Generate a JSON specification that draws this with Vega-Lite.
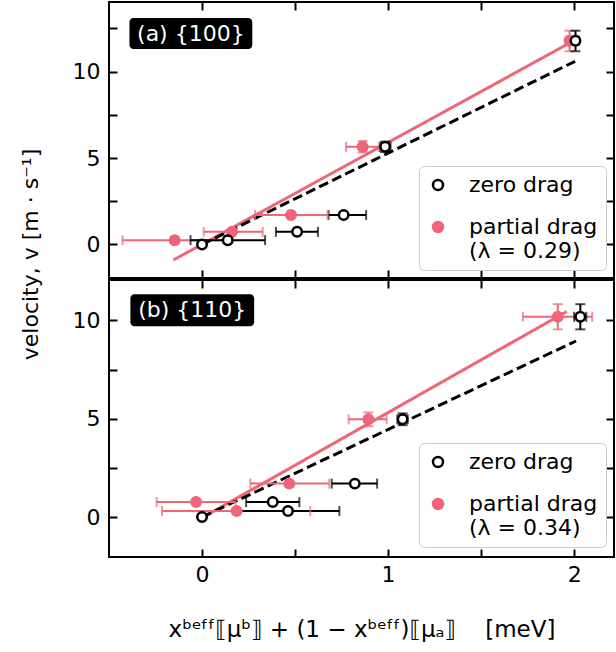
{
  "$schema": "https://vega.github.io/schema/vega-lite/v6.json",
  "padding": {"left": 18, "top": 0, "right": 1, "bottom": 4},
  "bounds": "flush",
  "config": {
    "font": "DejaVu Sans",
    "view": {"stroke": "black", "strokeWidth": 2},
    "concat": {"spacing": 2},
    "axis": {"domain": false, "grid": false, "tickColor": "black", "tickWidth": 2, "tickSize": -8, "labelFontSize": 22, "labelColor": "black", "titleFontSize": 22, "titleColor": "black", "titleFontWeight": "normal", "labelFont": "DejaVu Sans", "titleFont": "DejaVu Sans"},
    "legend": {"orient": "none", "fillColor": "rgba(255,255,255,0.8)", "strokeColor": "#cccccc", "cornerRadius": 5, "padding": 8, "labelFontSize": 22, "labelFont": "DejaVu Sans", "labelColor": "black", "symbolSize": 100, "symbolStrokeWidth": 2.5, "rowPadding": 20, "labelOffset": 20, "labelLimit": 400, "title": null}
  },
  "datasets": {
    "pts": [
      {"panel": "a", "series": "partial", "x": -0.147, "y": 0.25, "xlo": -0.427, "xhi": 0.133, "ylo": null, "yhi": null},
      {"panel": "a", "series": "partial", "x": 0.161, "y": 0.73, "xlo": 0.009, "xhi": 0.326, "ylo": null, "yhi": null},
      {"panel": "a", "series": "partial", "x": 0.478, "y": 1.70, "xlo": 0.285, "xhi": 0.675, "ylo": null, "yhi": null},
      {"panel": "a", "series": "partial", "x": 0.863, "y": 5.65, "xlo": 0.774, "xhi": 0.953, "ylo": 5.32, "yhi": 5.98},
      {"panel": "a", "series": "partial", "x": 1.975, "y": 11.79, "xlo": 1.955, "xhi": 1.995, "ylo": 11.18, "yhi": 12.37},
      {"panel": "a", "series": "zero", "x": 0.0, "y": 0.0, "xlo": null, "xhi": null, "ylo": null, "yhi": null},
      {"panel": "a", "series": "zero", "x": 0.138, "y": 0.25, "xlo": -0.062, "xhi": 0.339, "ylo": null, "yhi": null},
      {"panel": "a", "series": "zero", "x": 0.511, "y": 0.73, "xlo": 0.397, "xhi": 0.623, "ylo": null, "yhi": null},
      {"panel": "a", "series": "zero", "x": 0.761, "y": 1.70, "xlo": 0.680, "xhi": 0.882, "ylo": null, "yhi": null},
      {"panel": "a", "series": "zero", "x": 0.984, "y": 5.65, "xlo": 0.955, "xhi": 1.013, "ylo": 5.35, "yhi": 5.95},
      {"panel": "a", "series": "zero", "x": 2.007, "y": 11.79, "xlo": 1.99, "xhi": 2.025, "ylo": 11.18, "yhi": 12.37},
      {"panel": "b", "series": "partial", "x": -0.032, "y": 0.76, "xlo": -0.244, "xhi": 0.18, "ylo": null, "yhi": null},
      {"panel": "b", "series": "partial", "x": 0.186, "y": 0.31, "xlo": -0.215, "xhi": 0.582, "ylo": null, "yhi": null},
      {"panel": "b", "series": "partial", "x": 0.469, "y": 1.70, "xlo": 0.26, "xhi": 0.684, "ylo": null, "yhi": null},
      {"panel": "b", "series": "partial", "x": 0.894, "y": 4.97, "xlo": 0.788, "xhi": 0.992, "ylo": 4.62, "yhi": 5.32},
      {"panel": "b", "series": "partial", "x": 1.912, "y": 10.18, "xlo": 1.724, "xhi": 2.097, "ylo": 9.54, "yhi": 10.82},
      {"panel": "b", "series": "zero", "x": 0.0, "y": 0.0, "xlo": null, "xhi": null, "ylo": null, "yhi": null},
      {"panel": "b", "series": "zero", "x": 0.380, "y": 0.76, "xlo": 0.237, "xhi": 0.523, "ylo": null, "yhi": null},
      {"panel": "b", "series": "zero", "x": 0.462, "y": 0.31, "xlo": 0.186, "xhi": 0.738, "ylo": null, "yhi": null},
      {"panel": "b", "series": "zero", "x": 0.821, "y": 1.70, "xlo": 0.697, "xhi": 0.941, "ylo": null, "yhi": null},
      {"panel": "b", "series": "zero", "x": 1.078, "y": 4.97, "xlo": 1.05, "xhi": 1.105, "ylo": 4.67, "yhi": 5.27},
      {"panel": "b", "series": "zero", "x": 2.033, "y": 10.18, "xlo": 2.0, "xhi": 2.065, "ylo": 9.54, "yhi": 10.82}
    ],
    "fits": [
      {"panel": "a", "kind": "partial", "x": -0.154, "y": -0.90},
      {"panel": "a", "kind": "partial", "x": 2.0, "y": 11.8},
      {"panel": "a", "kind": "zero", "x": 0.0, "y": 0.0},
      {"panel": "a", "kind": "zero", "x": 2.005, "y": 10.6},
      {"panel": "b", "kind": "partial", "x": -0.015, "y": -0.12},
      {"panel": "b", "kind": "partial", "x": 1.96, "y": 10.45},
      {"panel": "b", "kind": "zero", "x": 0.0, "y": 0.0},
      {"panel": "b", "kind": "zero", "x": 2.01, "y": 8.95}
    ]
  },
  "resolve": {"scale": {"fill": "independent", "stroke": "independent", "y": "independent"}},
  "vconcat": [
    {
      "width": 505, "height": 276,
      "resolve": {"axis": {"x": "independent", "y": "independent"}},
      "layer": [
        {
          "data": {"name": "fits"},
          "transform": [{"filter": "datum.panel == 'a' && datum.kind == 'partial'"}],
          "mark": {"type": "line", "color": "#EE6677", "strokeWidth": 3},
          "encoding": {
            "x": {"field": "x", "type": "quantitative", "scale": {"domain": [-0.5, 2.214], "nice": false, "zero": false},
                  "axis": {"orient": "bottom", "values": [0, 0.5, 1, 1.5, 2], "labels": false, "title": null}},
            "y": {"field": "y", "type": "quantitative", "scale": {"domain": [-1.94, 14.03], "nice": false, "zero": false},
                  "axis": {"orient": "left", "values": [0, 2.5, 5, 7.5, 10, 12.5], "labelExpr": "datum.value % 5 == 0 ? datum.label : ''", "labelPadding": 17,
                           "title": "velocity, v [m · s⁻¹]", "titleX": -79, "titleY": 252, "titleAngle": -90, "titleAlign": "center", "titleBaseline": "middle"}}
          }
        },
        {
          "data": {"name": "fits"},
          "transform": [{"filter": "datum.panel == 'a' && datum.kind == 'zero'"}],
          "mark": {"type": "line", "color": "black", "strokeWidth": 3, "strokeDash": [10, 4.5]},
          "encoding": {
            "x": {"field": "x", "type": "quantitative", "axis": {"orient": "top", "values": [0, 0.5, 1, 1.5, 2], "labels": false, "title": null}},
            "y": {"field": "y", "type": "quantitative", "axis": {"orient": "right", "values": [0, 2.5, 5, 7.5, 10, 12.5], "labels": false, "title": null}}
          }
        },
        {
          "data": {"name": "pts"},
          "transform": [{"filter": "datum.panel == 'a'"}],
          "mark": {"type": "rule", "strokeWidth": 2},
          "encoding": {
            "x": {"field": "xlo", "type": "quantitative", "axis": null},
            "x2": {"field": "xhi"},
            "y": {"field": "y", "type": "quantitative", "axis": null},
            "color": {"condition": {"test": "datum.series == 'zero'", "value": "black"}, "value": "#EE6677"}
          }
        },
        {
          "data": {"name": "pts"},
          "transform": [{"filter": "datum.panel == 'a'"}],
          "mark": {"type": "tick", "orient": "vertical", "size": 10, "thickness": 2},
          "encoding": {
            "x": {"field": "xlo", "type": "quantitative", "axis": null},
            "y": {"field": "y", "type": "quantitative", "axis": null},
            "color": {"condition": {"test": "datum.series == 'zero'", "value": "black"}, "value": "#EE6677"}
          }
        },
        {
          "data": {"name": "pts"},
          "transform": [{"filter": "datum.panel == 'a'"}],
          "mark": {"type": "tick", "orient": "vertical", "size": 10, "thickness": 2},
          "encoding": {
            "x": {"field": "xhi", "type": "quantitative", "axis": null},
            "y": {"field": "y", "type": "quantitative", "axis": null},
            "color": {"condition": {"test": "datum.series == 'zero'", "value": "black"}, "value": "#EE6677"}
          }
        },
        {
          "data": {"name": "pts"},
          "transform": [{"filter": "datum.panel == 'a'"}],
          "mark": {"type": "rule", "strokeWidth": 2},
          "encoding": {
            "x": {"field": "x", "type": "quantitative", "axis": null},
            "y": {"field": "ylo", "type": "quantitative", "axis": null},
            "y2": {"field": "yhi"},
            "color": {"condition": {"test": "datum.series == 'zero'", "value": "black"}, "value": "#EE6677"}
          }
        },
        {
          "data": {"name": "pts"},
          "transform": [{"filter": "datum.panel == 'a'"}],
          "mark": {"type": "tick", "orient": "horizontal", "size": 10, "thickness": 2},
          "encoding": {
            "x": {"field": "x", "type": "quantitative", "axis": null},
            "y": {"field": "ylo", "type": "quantitative", "axis": null},
            "color": {"condition": {"test": "datum.series == 'zero'", "value": "black"}, "value": "#EE6677"}
          }
        },
        {
          "data": {"name": "pts"},
          "transform": [{"filter": "datum.panel == 'a'"}],
          "mark": {"type": "tick", "orient": "horizontal", "size": 10, "thickness": 2},
          "encoding": {
            "x": {"field": "x", "type": "quantitative", "axis": null},
            "y": {"field": "yhi", "type": "quantitative", "axis": null},
            "color": {"condition": {"test": "datum.series == 'zero'", "value": "black"}, "value": "#EE6677"}
          }
        },
        {
          "data": {"name": "pts"},
          "transform": [{"filter": "datum.panel == 'a'"}],
          "mark": {"type": "point", "shape": "circle", "size": 90, "strokeWidth": 2.5, "opacity": 1},
          "encoding": {
            "x": {"field": "x", "type": "quantitative", "axis": null},
            "y": {"field": "y", "type": "quantitative", "axis": null},
            "fill": {"field": "series", "type": "nominal", "scale": {"domain": ["zero", "partial"], "range": ["white", "#EE6677"]},
                     "legend": {"legendX": 310, "legendY": 164, "labelExpr": "datum.value == 'zero' ? 'zero drag' : ['partial drag', '(λ = 0.29)']",
                                "encode": {"labels": {"update": {"lineHeight": {"value": 24.5}}},
                                           "symbols": {"update": {"stroke": {"signal": "datum.value == 'zero' ? 'black' : '#EE6677'"}, "strokeWidth": {"value": 2.5}, "size": {"signal": "datum.value == 'zero' ? 56 : 100"}}}}}},
            "stroke": {"field": "series", "type": "nominal", "scale": {"domain": ["zero", "partial"], "range": ["black", "#EE6677"]}, "legend": null}
          }
        },
        {
          "data": {"values": [{}]},
          "mark": {"type": "rect", "fill": "black", "cornerRadius": 4},
          "encoding": {
            "x": {"datum": -0.39, "type": "quantitative", "axis": null}, "x2": {"datum": 0.27},
            "y": {"datum": 11.31, "type": "quantitative", "axis": null}, "y2": {"datum": 13.1}
          }
        },
        {
          "data": {"values": [{}]},
          "mark": {"type": "text", "color": "white", "fontSize": 22, "text": "(a) {100}", "align": "center", "baseline": "middle"},
          "encoding": {
            "x": {"datum": -0.06, "type": "quantitative", "axis": null},
            "y": {"datum": 12.2, "type": "quantitative", "axis": null}
          }
        }
      ]
    },
    {
      "width": 505, "height": 277,
      "resolve": {"axis": {"x": "independent", "y": "independent"}},
      "layer": [
        {
          "data": {"name": "fits"},
          "transform": [{"filter": "datum.panel == 'b' && datum.kind == 'partial'"}],
          "mark": {"type": "line", "color": "#EE6677", "strokeWidth": 3},
          "encoding": {
            "x": {"field": "x", "type": "quantitative", "scale": {"domain": [-0.5, 2.214], "nice": false, "zero": false},
                  "axis": {"orient": "bottom", "values": [0, 0.5, 1, 1.5, 2], "labelExpr": "datum.value % 1 == 0 ? format(datum.value, 'd') : ''", "labelPadding": 15,
                           "title": "xᵇᵉᶠᶠ⟦μᵇ⟧ + (1 − xᵇᵉᶠᶠ)⟦μₐ⟧\u00a0\u00a0\u00a0\u00a0[meV]", "titlePadding": 33, "titleFontSize": 23}},
            "y": {"field": "y", "type": "quantitative", "scale": {"domain": [-2.03, 12.05], "nice": false, "zero": false},
                  "axis": {"orient": "left", "values": [0, 2.5, 5, 7.5, 10], "labelExpr": "datum.value % 5 == 0 ? datum.label : ''", "labelPadding": 17, "title": null}}
          }
        },
        {
          "data": {"name": "fits"},
          "transform": [{"filter": "datum.panel == 'b' && datum.kind == 'zero'"}],
          "mark": {"type": "line", "color": "black", "strokeWidth": 3, "strokeDash": [10, 4.5]},
          "encoding": {
            "x": {"field": "x", "type": "quantitative", "axis": {"orient": "top", "values": [0, 0.5, 1, 1.5, 2], "labels": false, "title": null}},
            "y": {"field": "y", "type": "quantitative", "axis": {"orient": "right", "values": [0, 2.5, 5, 7.5, 10], "labels": false, "title": null}}
          }
        },
        {
          "data": {"name": "pts"},
          "transform": [{"filter": "datum.panel == 'b'"}],
          "mark": {"type": "rule", "strokeWidth": 2},
          "encoding": {
            "x": {"field": "xlo", "type": "quantitative", "axis": null},
            "x2": {"field": "xhi"},
            "y": {"field": "y", "type": "quantitative", "axis": null},
            "color": {"condition": {"test": "datum.series == 'zero'", "value": "black"}, "value": "#EE6677"}
          }
        },
        {
          "data": {"name": "pts"},
          "transform": [{"filter": "datum.panel == 'b'"}],
          "mark": {"type": "tick", "orient": "vertical", "size": 10, "thickness": 2},
          "encoding": {
            "x": {"field": "xlo", "type": "quantitative", "axis": null},
            "y": {"field": "y", "type": "quantitative", "axis": null},
            "color": {"condition": {"test": "datum.series == 'zero'", "value": "black"}, "value": "#EE6677"}
          }
        },
        {
          "data": {"name": "pts"},
          "transform": [{"filter": "datum.panel == 'b'"}],
          "mark": {"type": "tick", "orient": "vertical", "size": 10, "thickness": 2},
          "encoding": {
            "x": {"field": "xhi", "type": "quantitative", "axis": null},
            "y": {"field": "y", "type": "quantitative", "axis": null},
            "color": {"condition": {"test": "datum.series == 'zero'", "value": "black"}, "value": "#EE6677"}
          }
        },
        {
          "data": {"name": "pts"},
          "transform": [{"filter": "datum.panel == 'b'"}],
          "mark": {"type": "rule", "strokeWidth": 2},
          "encoding": {
            "x": {"field": "x", "type": "quantitative", "axis": null},
            "y": {"field": "ylo", "type": "quantitative", "axis": null},
            "y2": {"field": "yhi"},
            "color": {"condition": {"test": "datum.series == 'zero'", "value": "black"}, "value": "#EE6677"}
          }
        },
        {
          "data": {"name": "pts"},
          "transform": [{"filter": "datum.panel == 'b'"}],
          "mark": {"type": "tick", "orient": "horizontal", "size": 10, "thickness": 2},
          "encoding": {
            "x": {"field": "x", "type": "quantitative", "axis": null},
            "y": {"field": "ylo", "type": "quantitative", "axis": null},
            "color": {"condition": {"test": "datum.series == 'zero'", "value": "black"}, "value": "#EE6677"}
          }
        },
        {
          "data": {"name": "pts"},
          "transform": [{"filter": "datum.panel == 'b'"}],
          "mark": {"type": "tick", "orient": "horizontal", "size": 10, "thickness": 2},
          "encoding": {
            "x": {"field": "x", "type": "quantitative", "axis": null},
            "y": {"field": "yhi", "type": "quantitative", "axis": null},
            "color": {"condition": {"test": "datum.series == 'zero'", "value": "black"}, "value": "#EE6677"}
          }
        },
        {
          "data": {"name": "pts"},
          "transform": [{"filter": "datum.panel == 'b'"}],
          "mark": {"type": "point", "shape": "circle", "size": 90, "strokeWidth": 2.5, "opacity": 1},
          "encoding": {
            "x": {"field": "x", "type": "quantitative", "axis": null},
            "y": {"field": "y", "type": "quantitative", "axis": null},
            "fill": {"field": "series", "type": "nominal", "scale": {"domain": ["zero", "partial"], "range": ["white", "#EE6677"]},
                     "legend": {"legendX": 310, "legendY": 163, "labelExpr": "datum.value == 'zero' ? 'zero drag' : ['partial drag', '(λ = 0.34)']",
                                "encode": {"labels": {"update": {"lineHeight": {"value": 24.5}}},
                                           "symbols": {"update": {"stroke": {"signal": "datum.value == 'zero' ? 'black' : '#EE6677'"}, "strokeWidth": {"value": 2.5}, "size": {"signal": "datum.value == 'zero' ? 56 : 100"}}}}}},
            "stroke": {"field": "series", "type": "nominal", "scale": {"domain": ["zero", "partial"], "range": ["black", "#EE6677"]}, "legend": null}
          }
        },
        {
          "data": {"values": [{}]},
          "mark": {"type": "rect", "fill": "black", "cornerRadius": 4},
          "encoding": {
            "x": {"datum": -0.385, "type": "quantitative", "axis": null}, "x2": {"datum": 0.28},
            "y": {"datum": 9.70, "type": "quantitative", "axis": null}, "y2": {"datum": 11.32}
          }
        },
        {
          "data": {"values": [{}]},
          "mark": {"type": "text", "color": "white", "fontSize": 22, "text": "(b) {110}", "align": "center", "baseline": "middle"},
          "encoding": {
            "x": {"datum": -0.053, "type": "quantitative", "axis": null},
            "y": {"datum": 10.51, "type": "quantitative", "axis": null}
          }
        }
      ]
    }
  ]
}
